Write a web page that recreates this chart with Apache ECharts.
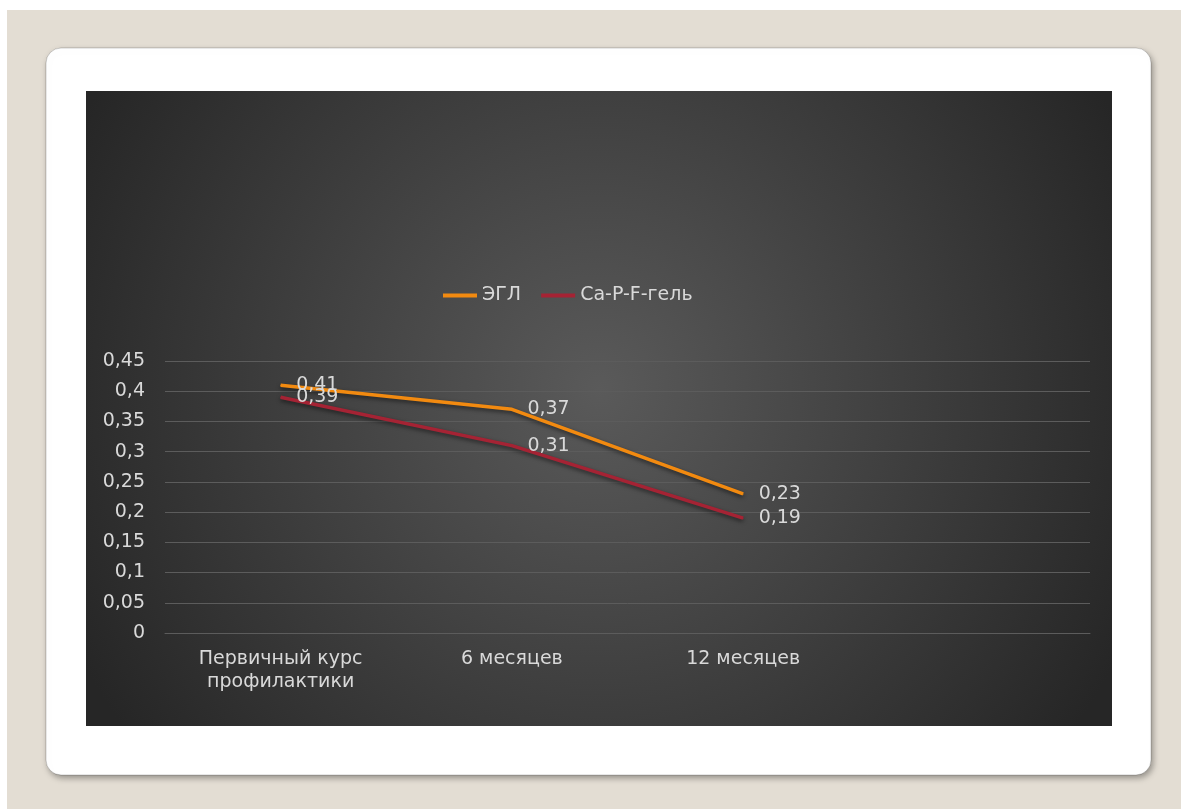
<!DOCTYPE html>
<html>
<head>
<meta charset="utf-8">
<style>
  html, body { margin: 0; padding: 0; background: #ffffff; }
  #chart { width: 1181px; height: 809px; }
</style>
<script src="https://cdn.jsdelivr.net/npm/echarts@6/dist/echarts.min.js"></script>
</head>
<body>
<div id="chart"></div>
<script>
// Periods of observation
const categories = ['Первичный курс\nпрофилактики', '6 месяцев', '12 месяцев', ''];
// Index values per group
const seriesNames = ['ЭГЛ', 'Ca-P-F-гель'];
const eglValues = [0.41, 0.37, 0.23, null];
const gelValues = [0.39, 0.31, 0.19, null];
// Value axis range
const yMin = 0;
const yMax = 0.45;
const yStep = 0.05;

const comma = v => String(+(+v).toFixed(2)).replace('.', ',');
const FONT = 'DejaVu Sans';
const TEXT = '#d9d9d9';
const FS = 19;

const chart = echarts.init(document.getElementById('chart'), null, { renderer: 'canvas' });

function lineSeries(name, data, color) {
  return {
    name: name,
    type: 'line',
    data: data,
    symbol: 'circle',
    symbolSize: 1,
    showSymbol: true,
    itemStyle: { color: color },
    lineStyle: {
      color: color, width: 3.5,
      shadowColor: 'rgba(0,0,0,0.55)', shadowBlur: 4, shadowOffsetY: 2
    },
    label: {
      show: true, position: 'right', distance: 15,
      color: TEXT, fontFamily: FONT, fontSize: FS,
      formatter: p => comma(p.value)
    },
    emphasis: { disabled: true },
    animation: false
  };
}

chart.setOption({
  backgroundColor: '#ffffff',
  animation: false,
  graphic: [
    { type: 'rect', z: -20, silent: true,
      shape: { x: 7, y: 10, width: 1174, height: 799 },
      style: { fill: '#e3ddd3' } },
    { type: 'rect', z: -19, silent: true,
      shape: { x: 46, y: 48, width: 1105, height: 727, r: 15 },
      style: { fill: '#ffffff', stroke: 'rgba(0,0,0,0.18)', lineWidth: 1,
               shadowColor: 'rgba(0,0,0,0.35)', shadowBlur: 6, shadowOffsetX: 2, shadowOffsetY: 3 } },
    { type: 'rect', z: -18, silent: true,
      shape: { x: 86, y: 91, width: 1026, height: 635 },
      style: {
        fill: {
          type: 'radial', x: 0.5, y: 0.47, r: 0.92,
          colorStops: [
            { offset: 0, color: '#5a5a5a' },
            { offset: 1, color: '#262626' }
          ]
        }
      } }
  ],
  legend: {
    left: 438, top: 281,
    itemWidth: 34, itemHeight: 4, itemGap: 20,
    icon: 'rect',
    textStyle: { color: TEXT, fontFamily: FONT, fontSize: FS },
    data: seriesNames,
    selectedMode: false
  },
  grid: { left: 165, right: 91, top: 361, bottom: 176, containLabel: false },
  xAxis: {
    type: 'category',
    data: categories,
    boundaryGap: true,
    axisTick: { show: false },
    axisLine: { lineStyle: { color: '#5c5c5c', width: 1 } },
    axisLabel: { color: TEXT, fontFamily: FONT, fontSize: FS, margin: 15, lineHeight: 23, interval: 0 }
  },
  yAxis: {
    type: 'value',
    min: yMin, max: yMax, interval: yStep,
    axisLine: { show: false },
    axisTick: { show: false },
    splitLine: { lineStyle: { color: '#5c5c5c', width: 1 } },
    axisLabel: { color: TEXT, fontFamily: FONT, fontSize: FS, margin: 20, formatter: v => comma(v) }
  },
  series: [
    lineSeries(seriesNames[0], eglValues, '#f28a10'),
    lineSeries(seriesNames[1], gelValues, '#a52334')
  ]
});
</script>
</body>
</html>
